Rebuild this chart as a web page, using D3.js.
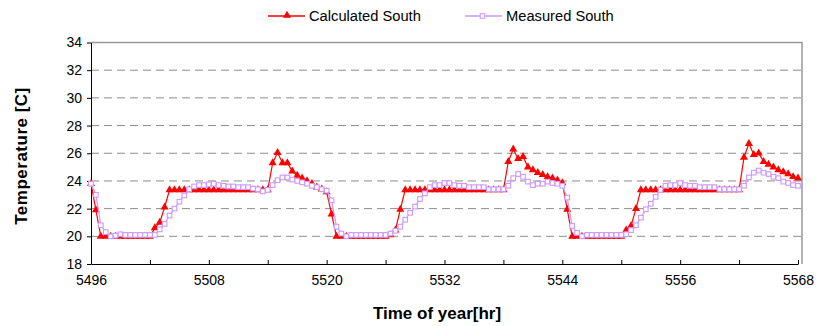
<!DOCTYPE html>
<html>
<head>
<meta charset="utf-8">
<script src="https://cdn.jsdelivr.net/npm/d3@7"></script>
<style>
  html, body { margin: 0; padding: 0; background: #fff; }
  svg { display: block; font-family: "Liberation Sans", Arial, sans-serif; }
</style>
</head>
<body>
<svg id="chart" width="818" height="326"></svg>
<script>
// Half-hourly readings starting at hour 5496 of the year
const startHour = 5496;
const stepHours = 0.5;

const calculatedSouth = [
  // 5496 - 5520
  23.8, 21.9, 20.0, 20.0, 20.0, 20.0, 20.0, 20.0, 20.0, 20.0, 20.0, 20.0, 20.0,
  20.6, 21.0, 22.1, 23.35,
  23.35, 23.35, 23.35, 23.35, 23.35, 23.35, 23.35, 23.35, 23.35, 23.35,
  23.35, 23.35, 23.35, 23.35, 23.35, 23.35, 23.35, 23.35, 23.35, 23.35,
  25.3, 26.05, 25.3, 25.3, 24.7, 24.4, 24.2, 24.0, 23.8, 23.55, 23.4, 23.2,
  // 5520 - 5544
  21.6, 20.0, 20.0, 20.0, 20.0, 20.0, 20.0, 20.0, 20.0, 20.0, 20.0, 20.0,
  20.1, 20.45, 21.95, 23.35,
  23.35, 23.35, 23.35, 23.35, 23.35, 23.35, 23.35, 23.35, 23.35, 23.35,
  23.35, 23.35, 23.35, 23.35, 23.35, 23.35, 23.35, 23.35, 23.35, 23.35,
  25.4, 26.3, 25.6, 25.75, 25.0, 24.8, 24.6, 24.45, 24.3, 24.2, 24.05, 23.85,
  // 5544 - 5568
  21.95, 20.0, 20.0, 20.0, 20.0, 20.0, 20.0, 20.0, 20.0, 20.0, 20.0, 20.0,
  20.45, 20.75, 22.0, 23.35,
  23.35, 23.35, 23.35, 23.35, 23.35, 23.35, 23.35, 23.35, 23.35, 23.35,
  23.35, 23.35, 23.35, 23.35, 23.35, 23.35, 23.35, 23.35, 23.35, 23.35,
  25.7, 26.7, 25.9, 26.0, 25.4, 25.2, 25.0, 24.8, 24.65, 24.5, 24.3, 24.2
];

const measuredSouth = [
  // 5496 - 5520
  23.8, 23.0, 20.8, 20.3, 20.0, 20.05, 20.15, 20.1, 20.1, 20.1, 20.1, 20.1, 20.1, 20.1,
  20.5, 20.9, 21.5, 22.0, 22.5, 22.95, 23.4, 23.6, 23.7, 23.7, 23.75, 23.8,
  23.7, 23.65, 23.6, 23.6, 23.55, 23.55, 23.55, 23.45, 23.4, 23.25, 23.35,
  23.7, 24.05, 24.25, 24.25, 24.1, 24.0, 23.9, 23.8, 23.65, 23.55, 23.4, 23.3,
  // 5520 - 5544
  22.6, 20.7, 20.2, 20.0, 20.1, 20.1, 20.1, 20.1, 20.1, 20.1, 20.1, 20.1,
  20.2, 20.4, 20.7, 21.2, 21.7, 22.15, 22.7, 23.1, 23.55, 23.7, 23.7, 23.85,
  23.85, 23.7, 23.65, 23.65, 23.55, 23.55, 23.55, 23.55, 23.4, 23.4, 23.4, 23.4,
  23.65, 24.2, 24.5, 24.3, 23.95, 23.7, 23.8, 23.8, 23.95, 23.85, 23.8, 23.65,
  // 5544 - 5568
  22.8, 20.75, 20.25, 20.0, 20.1, 20.1, 20.1, 20.1, 20.1, 20.1, 20.1, 20.1,
  20.15, 20.45, 20.8, 21.35, 21.95, 22.35, 22.85, 23.35, 23.65, 23.7, 23.7, 23.85,
  23.7, 23.65, 23.65, 23.55, 23.55, 23.55, 23.55, 23.4, 23.4, 23.4, 23.4, 23.4,
  23.65, 24.25, 24.6, 24.75, 24.6, 24.5, 24.3, 24.2, 23.95, 23.85, 23.7, 23.65
];

const seriesNames = ["Calculated South", "Measured South"];
const xTickLabels = [5496, 5508, 5520, 5532, 5544, 5556, 5568];
const xMinorTicks = [5496, 5502, 5508, 5514, 5520, 5526, 5532, 5538, 5544, 5550, 5556, 5562, 5568];
const yTickLabels = [18, 20, 22, 24, 26, 28, 30, 32, 34];
const xTitle = "Time of year[hr]";
const yTitle = "Temperature [C]";

const svg = d3.select("#chart");
const box = { left: 91, right: 798, frameRight: 802, top: 42.5, bottom: 264 };

const x = d3.scaleLinear().domain([5496, 5568]).range([box.left, box.right]);
const y = d3.scaleLinear().domain([18, 34]).range([box.bottom, box.top]);

const rows = (vals) => vals.map((v, i) => ({ t: startHour + i * stepHours, v }));
const calcRows = rows(calculatedSouth);
const measRows = rows(measuredSouth);

// dashed horizontal grid
svg.append("g")
  .selectAll("line")
  .data(yTickLabels.filter(d => d > 18 && d < 34))
  .join("line")
  .attr("x1", box.left).attr("x2", box.frameRight)
  .attr("y1", d => y(d)).attr("y2", d => y(d))
  .attr("stroke", "#8c8c8c")
  .attr("stroke-width", 1)
  .attr("stroke-dasharray", "8,5");

// plot-area frame (top and right edges)
svg.append("path")
  .attr("d", `M${box.left},${y(34)}H${box.frameRight}V${box.bottom}`)
  .attr("fill", "none")
  .attr("stroke", "#999")
  .attr("stroke-width", 1.5);

// axes
const xAxis = svg.append("g")
  .attr("transform", `translate(0,${box.bottom})`)
  .call(d3.axisBottom(x)
    .tickValues(xMinorTicks)
    .tickSizeInner(-4)
    .tickSizeOuter(0)
    .tickPadding(11)
    .tickFormat(d => xTickLabels.includes(d) ? String(d) : ""));

const yAxis = svg.append("g")
  .attr("transform", `translate(${box.left},0)`)
  .call(d3.axisLeft(y)
    .tickValues(yTickLabels)
    .tickSizeInner(4)
    .tickSizeOuter(0)
    .tickPadding(5)
    .tickFormat(d3.format("d")));

[xAxis, yAxis].forEach(g => {
  g.select(".domain").attr("stroke", "#000").attr("stroke-width", 1);
  g.selectAll(".tick line").attr("stroke", "#000");
  g.selectAll(".tick text")
    .attr("fill", "#000")
    .style("font-family", "'Liberation Sans', Arial, sans-serif")
    .style("font-size", "14px");
});

// series lines
const line = d3.line().x(d => x(d.t)).y(d => y(d.v));

svg.append("path")
  .datum(calcRows)
  .attr("d", line)
  .attr("fill", "none")
  .attr("stroke", "#ff0000")
  .attr("stroke-width", 1.2);

const tri = d3.symbol().type(d3.symbolTriangle).size(28);
svg.append("g")
  .selectAll("path")
  .data(calcRows)
  .join("path")
  .attr("transform", d => `translate(${x(d.t)},${y(d.v)})`)
  .attr("d", tri)
  .attr("fill", "#ff0000");

svg.append("path")
  .datum(measRows)
  .attr("d", line)
  .attr("fill", "none")
  .attr("stroke", "#cc99ff")
  .attr("stroke-width", 1.2);

svg.append("g")
  .selectAll("rect")
  .data(measRows)
  .join("rect")
  .attr("x", d => x(d.t) - 2.3)
  .attr("y", d => y(d.v) - 2.3)
  .attr("width", 4.6)
  .attr("height", 4.6)
  .attr("fill", "#fff")
  .attr("stroke", "#cc99ff")
  .attr("stroke-width", 1.1);

// axis titles
svg.append("text")
  .attr("x", 437).attr("y", 319)
  .attr("text-anchor", "middle")
  .style("font-size", "17px")
  .style("font-weight", "bold")
  .text(xTitle);

svg.append("text")
  .attr("transform", "translate(27,156) rotate(-90)")
  .attr("text-anchor", "middle")
  .style("font-size", "17px")
  .style("font-weight", "bold")
  .style("letter-spacing", "0.5px")
  .text(yTitle);

// legend
const legend = svg.append("g");
const legendItems = [
  { name: seriesNames[0], x0: 268, color: "#ff0000", marker: "tri" },
  { name: seriesNames[1], x0: 465, color: "#cc99ff", marker: "sq" }
];
legendItems.forEach(it => {
  const g = legend.append("g");
  g.append("line")
    .attr("x1", it.x0).attr("x2", it.x0 + 37)
    .attr("y1", 16).attr("y2", 16)
    .attr("stroke", it.color).attr("stroke-width", 1.5);
  if (it.marker === "tri") {
    g.append("path")
      .attr("transform", `translate(${it.x0 + 19},15.5)`)
      .attr("d", tri)
      .attr("fill", it.color);
  } else {
    g.append("rect")
      .attr("x", it.x0 + 17.5 - 2.3).attr("y", 16 - 2.3)
      .attr("width", 4.6).attr("height", 4.6)
      .attr("fill", "#fff").attr("stroke", it.color).attr("stroke-width", 1.1);
  }
  g.append("text")
    .attr("x", it.x0 + 41).attr("y", 21)
    .style("font-size", "14.7px")
    .attr("fill", "#000")
    .text(it.name);
});
</script>
</body>
</html>
